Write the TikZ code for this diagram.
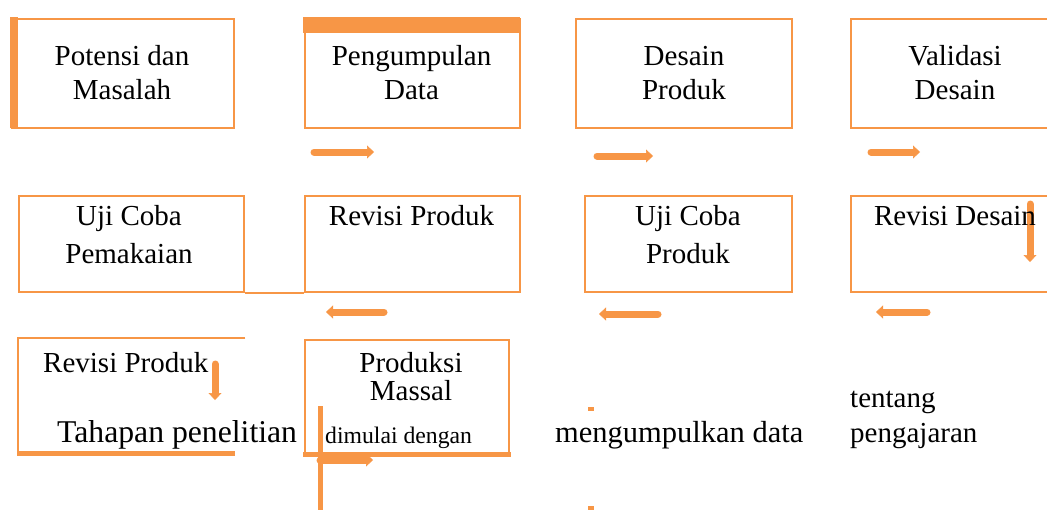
\documentclass[tikz,border=0pt]{standalone}
\usepackage{fontspec}
\IfFontExistsTF{LiberationSerif-Regular.ttf}
  {\setmainfont{LiberationSerif-Regular.ttf}[BoldFont=LiberationSerif-Bold.ttf]}
  {\IfFontExistsTF{Liberation Serif}{\setmainfont{Liberation Serif}}{}}
\usetikzlibrary{arrows.meta}
\definecolor{orng}{HTML}{F79646}
\begin{document}
\begin{tikzpicture}[x=1pt,y=-1pt,
  box/.style={draw=orng, line width=2.2pt, inner sep=0pt, anchor=north west},
  ghost/.style={inner sep=0pt, anchor=north west},
  edge/.style={draw=orng, line width=2.2pt},
  bar/.style={draw=orng, line width=5pt},
  t/.style={anchor=base, inner sep=0pt, text=black, font=\fontsize{29}{34}\selectfont},
  tl/.style={t, anchor=base west},
  blk/.style={draw=orng, line width=7pt, line cap=round,
    -{Triangle[length=7pt,width=13pt,line width=0.5pt]}},
]
\useasboundingbox (0,0) rectangle (1047,509);
\begin{scope}
\clip (0,0) rectangle (1047,509);
% row 1
\node[box, minimum width=222pt, minimum height=109pt] (b1) at (11,18) {};
\fill[orng] (10,17) rectangle (18,128);
\node[box, minimum width=215pt, minimum height=109pt] (b2) at (304,18) {};
\fill[orng] (303,17) rectangle (520,33);
\node[box, minimum width=216pt, minimum height=109pt] (b3) at (575,18) {};
\node[box, minimum width=215pt, minimum height=109pt] (b4) at (850,18) {};
% row 2
\node[box, minimum width=225pt, minimum height=96pt] (b5) at (18,195) {};
\node[box, minimum width=215pt, minimum height=96pt] (b6) at (304,195) {};
\draw[edge] (b5.south east) -- (b6.south west);
\node[box, minimum width=207pt, minimum height=96pt] (b7) at (584,195) {};
\node[box, minimum width=215pt, minimum height=96pt] (b8) at (850,195) {};
% row 3
\node[ghost, minimum width=227pt, minimum height=115pt] (b9) at (18,338) {};
\draw[edge] (b9.north east) -- (b9.north west) -- (b9.south west);
\draw[bar] ([xshift=-1pt]b9.south west) -- ++(218,0);
\node[box, minimum width=204pt, minimum height=113pt] (b10) at (304,339) {};
\draw[bar] ([xshift=-1pt]b10.south west) -- ([xshift=1pt]b10.south east);
\coordinate (v1) at (320,406);
\coordinate (v2) at (320,515);
\draw[bar] (v1) -- (v2);
% small marks
\fill[orng] (588,407) rectangle (594,411);
\fill[orng] (588,506) rectangle (594,510);
% arrows
\coordinate (a1s) at (314,152); \coordinate (a1e) at (374,152);
\coordinate (a2s) at (597,156); \coordinate (a2e) at (653,156);
\coordinate (a3s) at (871,152); \coordinate (a3e) at (920,152);
\coordinate (a4s) at (384,312); \coordinate (a4e) at (326,312);
\coordinate (a5s) at (658,314); \coordinate (a5e) at (599,314);
\coordinate (a6s) at (927,312); \coordinate (a6e) at (876,312);
\coordinate (a7s) at (1030,204); \coordinate (a7e) at (1030,262);
\coordinate (a8s) at (215,364); \coordinate (a8e) at (215,400);
\coordinate (a9s) at (320,460); \coordinate (a9e) at (373,460);
\foreach \i in {1,...,9} {\draw[blk] (a\i s) -- (a\i e);}
% texts
\node[t] (p1) at (122,65) {Potensi dan};
\node[t] (p2) at (122,99) {Masalah};
\node[t] (q1) at (411.5,65) {Pengumpulan};
\node[t] (q2) at (411.5,99) {Data};
\node[t] (r1) at (684,65) {Desain};
\node[t] (r2) at (684,99) {Produk};
\node[t] (s1) at (955,65) {Validasi};
\node[t] (s2) at (955,99) {Desain};
\node[t] (u1) at (129,225) {Uji Coba};
\node[t] (u2) at (129,263) {Pemakaian};
\node[t] (w1) at (411.5,225) {Revisi Produk};
\node[t] (x1) at (688,225) {Uji Coba};
\node[t] (x2) at (688,263) {Produk};
\node[t] (y1) at (955,225) {Revisi Desain};
\node[tl] (z1) at (43,372) {Revisi Produk};
\node[t] (m1) at (411,372) {Produksi};
\node[t] (m2) at (411,400) {Massal};
\node[tl, font=\fontsize{31.7}{36}\selectfont] (k1) at (57,442) {Tahapan penelitian};
\node[tl, font=\fontsize{23.7}{28}\selectfont] (k2) at (325,443) {dimulai dengan};
\node[tl, font=\fontsize{30.5}{35}\selectfont] (k3) at (555,442) {mengumpulkan data};
\node[tl] (k4) at (850,407) {tentang};
\node[tl] (k5) at (850,442) {pengajaran};
\end{scope}
\end{tikzpicture}
\end{document}
